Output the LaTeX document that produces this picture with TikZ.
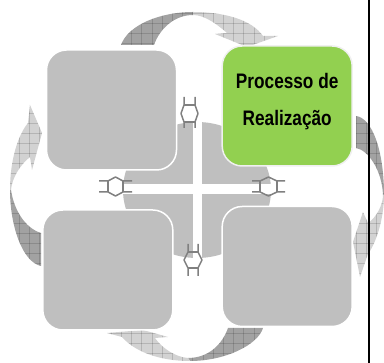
\documentclass[tikz,border=0pt]{standalone}
\usepackage{fontspec}
\newfontfamily\boxfont[FakeStretch=0.82]{Liberation Sans}
\tikzset{
  cardbox/.style={draw=white, line width=1.5pt, fill=cardgray, rounded corners=20pt, minimum width=130pt, minimum height=120pt, inner sep=0pt},
  hatchline/.style={draw=black, opacity=0.14, line width=0.8pt},
  linkpart/.style={draw=linkgray, line width=1.5pt, line join=round}
}
\definecolor{cardgray}{HTML}{BFBFBF}
\definecolor{linkgray}{HTML}{808080}
\definecolor{darkarc}{HTML}{A2A2A2}
\definecolor{lightarc}{HTML}{D2D2D2}
\definecolor{greenbox}{HTML}{92D050}
\definecolor{greenedge}{HTML}{F0F0F0}
\newcommand{\hatcharc}[2]{
  \begin{scope}
    \fill [#1] #2;
    \clip #2;
    \foreach \i in {0,...,38} {
      \draw [hatchline] (9.2 + 10.2*\i, 0) -- (9.2 + 10.2*\i, 363);
      \draw [hatchline] (0, 3.6 + 10*\i) -- (384, 3.6 + 10*\i);
    }
  \end{scope}
}
\begin{document}
\begin{tikzpicture}[x=1pt, y=-1pt]
    \useasboundingbox (0, 0) rectangle (384, 363);
    \hatcharc{darkarc}{(121, 45) .. controls (128, 25) and (160, 12) .. (193, 12) -- (193, 15) .. controls (175, 15) and (160, 28) .. (154, 45) -- cycle}
    \hatcharc{lightarc}{(193, 12) .. controls (225, 12) and (252, 20) .. (263, 36) -- (278, 36) -- (247, 47) -- (215, 34) -- (227, 33) .. controls (218, 25) and (205, 15) .. (193, 15) -- cycle}
    \hatcharc{darkarc}{(356, 116) .. controls (372, 118) and (384, 150) .. (384, 195) -- (383, 195) .. controls (382, 170) and (368, 150) .. (356, 148) -- cycle}
    \hatcharc{lightarc}{(384, 195) .. controls (384, 215) and (378, 240) .. (368, 254) -- (360, 277) -- (353, 242) -- (363, 212) -- (368, 223) .. controls (376, 218) and (383, 205) .. (383, 195) -- cycle}
    \hatcharc{darkarc}{(263, 328) .. controls (258, 345) and (225, 361) .. (190, 361) -- (188, 358) .. controls (208, 358) and (222, 345) .. (228, 328) -- cycle}
    \hatcharc{lightarc}{(190, 361) .. controls (160, 361) and (135, 352) .. (122, 337) -- (107, 333) -- (143, 330) -- (168, 337) -- (155, 338) .. controls (162, 348) and (175, 357) .. (188, 358) -- cycle}
    \hatcharc{darkarc}{(41, 233) .. controls (25, 228) and (14, 210) .. (11, 190) -- (10, 190) .. controls (10, 225) and (22, 262) .. (41, 266) -- cycle}
    \hatcharc{lightarc}{(10, 190) .. controls (10, 160) and (18, 135) .. (28, 123) -- (30, 105) -- (42, 133) -- (32, 170) -- (30, 157) .. controls (20, 165) and (12, 178) .. (11, 190) -- cycle}
    \fill [cardgray] (197, 190) ellipse (74 and 68);
    \fill [white] (192.7, 118) rectangle (201.7, 262);
    \fill [white] (120, 184) rectangle (274, 193.7);
    \draw [linkpart] (184, 97) -- (184, 105) -- (181, 113.5) -- (184, 122) -- (184, 128);
    \draw [linkpart] (195, 97) -- (195, 105) -- (198, 113.5) -- (195, 122) -- (195, 128);
    \draw [linkpart] (184, 105) -- (195, 105);
    \draw [linkpart] (184, 122) -- (195, 122);
    \draw [linkpart] (188, 244) -- (188, 252) -- (184, 260) -- (188, 268) -- (188, 276);
    \draw [linkpart] (198, 244) -- (198, 252) -- (202, 260) -- (198, 268) -- (198, 276);
    \draw [linkpart] (188, 252) -- (198, 252);
    \draw [linkpart] (188, 268) -- (198, 268);
    \draw [linkpart] (99, 181) -- (108, 181) -- (115.5, 177) -- (123, 181) -- (132, 181);
    \draw [linkpart] (99, 192) -- (108, 192) -- (115.5, 196) -- (123, 192) -- (132, 192);
    \draw [linkpart] (108, 181) -- (108, 192);
    \draw [linkpart] (123, 181) -- (123, 192);
    \draw [linkpart] (252, 181) -- (260, 181) -- (268.5, 177) -- (277, 181) -- (285, 181);
    \draw [linkpart] (252, 192) -- (260, 192) -- (268.5, 196) -- (277, 192) -- (285, 192);
    \draw [linkpart] (260, 181) -- (260, 192);
    \draw [linkpart] (277, 181) -- (277, 192);
    \node [cardbox] (topleft) at (111.5, 110) {};
    \node [cardbox] (bottomleft) at (107.8, 270) {};
    \node [cardbox] (bottomright) at (287.2, 266.5) {};
    \node [cardbox, draw=greenedge, fill=greenbox] (realizacao) at (287.2, 106) {};
    \node [align=center, inner sep=0pt, font=\boxfont\bfseries\fontsize{21}{37}\selectfont] (realizacaotext) at (287.2, 101.5) {Processo de\\Realização};
    \draw [line width=1.7pt] (369.2, 0) -- (369.2, 363);
  \end{tikzpicture}
\end{document}
